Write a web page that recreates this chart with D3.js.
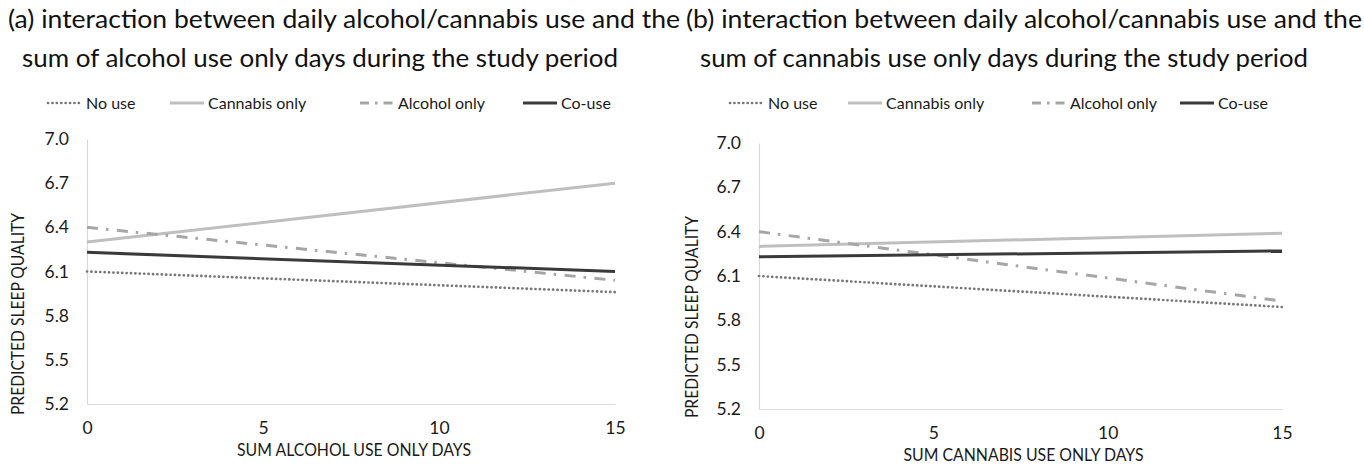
<!DOCTYPE html>
<html>
<head>
<meta charset="utf-8">
<script src="https://cdn.jsdelivr.net/npm/d3@7"></script>
<style>
  html, body { margin: 0; padding: 0; background: #fff; }
  svg { display: block; font-family: Lato, "Open Sans", sans-serif; }
</style>
</head>
<body>
<svg id="chart" width="1364" height="466"></svg>
<script>
// Predicted sleep quality across the study period, two interaction panels.
const xValues = [0, 15];
const xTicks = [0, 5, 10, 15];
const yTicks = [5.2, 5.5, 5.8, 6.1, 6.4, 6.7, 7.0];
const seriesNames = ["No use", "Cannabis only", "Alcohol only", "Co-use"];

// panel (a): sum of alcohol use only days
const noUseA = [6.10, 5.96];
const cannabisA = [6.30, 6.70];
const alcoholA = [6.40, 6.04];
const coUseA = [6.23, 6.10];

// panel (b): sum of cannabis use only days
const noUseB = [6.10, 5.89];
const cannabisB = [6.30, 6.39];
const alcoholB = [6.40, 5.93];
const coUseB = [6.23, 6.27];

const titlesA = ["(a) interaction between daily alcohol/cannabis use and the",
                 "sum of alcohol use only days during the study period"];
const titlesB = ["(b) interaction between daily alcohol/cannabis use and the",
                 "sum of cannabis use only days during the study period"];
const xTitleA = "SUM ALCOHOL USE ONLY DAYS";
const xTitleB = "SUM CANNABIS USE ONLY DAYS";
const yTitle = "PREDICTED SLEEP QUALITY";

// line styles per series
const styles = [
  { color: "#777777", width: 2.7, dash: "0.1 4.3", cap: "round" },
  { color: "#bfbfbf", width: 3, dash: null, cap: "butt" },
  { color: "#a6a6a6", width: 3, dash: "11 8 2.5 8.5", cap: "butt" },
  { color: "#3a3a3a", width: 3, dash: null, cap: "butt" }
];

const panels = [
  {
    series: [noUseA, cannabisA, alcoholA, coUseA],
    titles: titlesA, xTitle: xTitleA,
    x: [87, 615], y: [404, 139],
    titleX: [8, 22], titleW: [672, 596],
    legendX: [48, 170, 360, 523],
    yTitleX: 24, yTitleCY: 314,
    xTitleY: 456, xTickY: 434, xTitleW: 234
  },
  {
    series: [noUseB, cannabisB, alcoholB, coUseB],
    titles: titlesB, xTitle: xTitleB,
    x: [759, 1282], y: [409, 143],
    titleX: [686, 700], titleW: [676, 608],
    legendX: [730, 848, 1032, 1180],
    yTitleX: 698, yTitleCY: 317,
    xTitleY: 461, xTickY: 439, xTitleW: 240
  }
];

const svg = d3.select("#chart");
const textColor = "#1a1a1a";

panels.forEach(p => {
  const g = svg.append("g");
  const x = d3.scaleLinear().domain([0, 15]).range(p.x);
  const y = d3.scaleLinear().domain([5.2, 7.0]).range(p.y);

  // titles
  p.titles.forEach((t, i) => {
    g.append("text")
      .attr("x", p.titleX[i]).attr("y", 28 + i * 39)
      .attr("font-size", 24.5).attr("fill", "#111")
      .attr("textLength", p.titleW[i]).attr("lengthAdjust", "spacingAndGlyphs")
      .text(t);
  });

  // legend
  seriesNames.forEach((name, i) => {
    const s = styles[i];
    const lx = p.legendX[i];
    g.append("line")
      .attr("x1", lx).attr("x2", lx + 34).attr("y1", 103).attr("y2", 103)
      .attr("stroke", s.color).attr("stroke-width", s.width)
      .attr("stroke-dasharray", i === 2 ? "9 6 2.5 6" : s.dash)
      .attr("stroke-linecap", s.cap);
    g.append("text")
      .attr("x", lx + 38).attr("y", 109)
      .attr("font-size", 16).attr("fill", textColor)
      .text(name);
  });

  // axes: light baseline and vertical axis, no tick marks
  const yAxis = d3.axisLeft(y).tickValues(yTicks).tickSize(0).tickPadding(18)
    .tickFormat(d3.format(".1f"));
  const yg = g.append("g").attr("transform", `translate(${p.x[0]},0)`).call(yAxis);
  yg.select(".domain").attr("stroke", "#d9d9d9").attr("stroke-width", 1.2);
  yg.selectAll("text").attr("font-size", 17.5).attr("fill", textColor)
    .attr("font-family", "Lato, sans-serif");

  const xAxis = d3.axisBottom(x).tickValues(xTicks).tickSize(0).tickPadding(0)
    .tickFormat(d3.format("d"));
  const xg = g.append("g").attr("transform", `translate(0,${p.y[0]})`).call(xAxis);
  xg.select(".domain").attr("stroke", "#d9d9d9").attr("stroke-width", 1.2);
  xg.selectAll("text").attr("font-size", 17.5).attr("fill", textColor)
    .attr("font-family", "Lato, sans-serif")
    .attr("dy", null).attr("y", p.xTickY - p.y[0]);

  // axis titles
  g.append("text")
    .attr("transform", `translate(${p.yTitleX},${p.yTitleCY}) rotate(-90)`)
    .attr("text-anchor", "middle").attr("font-size", 16.5).attr("fill", textColor)
    .attr("textLength", 202).attr("lengthAdjust", "spacingAndGlyphs")
    .text(yTitle);
  g.append("text")
    .attr("x", (p.x[0] + p.x[1]) / 2 + 3).attr("y", p.xTitleY)
    .attr("text-anchor", "middle").attr("font-size", 16.5).attr("fill", textColor)
    .attr("textLength", p.xTitleW).attr("lengthAdjust", "spacingAndGlyphs")
    .text(p.xTitle);

  // series lines
  const line = d3.line().x(d => x(d[0])).y(d => y(d[1]));
  p.series.forEach((vals, i) => {
    const s = styles[i];
    g.append("path")
      .datum(xValues.map((xv, k) => [xv, vals[k]]))
      .attr("d", line)
      .attr("fill", "none")
      .attr("stroke", s.color).attr("stroke-width", s.width)
      .attr("stroke-dasharray", s.dash)
      .attr("stroke-linecap", s.cap);
  });
});
</script>
</body>
</html>
